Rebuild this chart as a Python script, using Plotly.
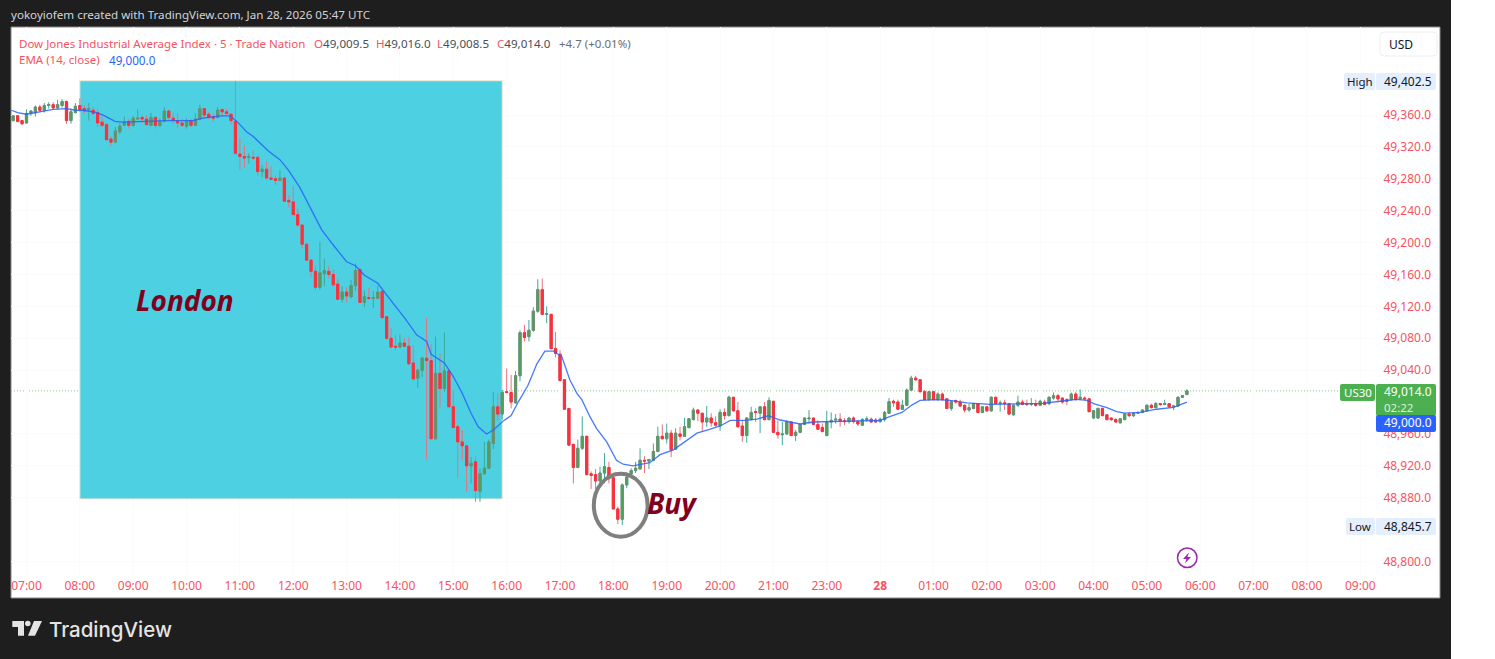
import plotly.graph_objects as go

W, H = 1495, 659

bars = list(range(-3, 262))
opens = [
 49353,49359,49353,49350,49362,49363,49370,49366,49372,49373,
 49369,49372,49377,49353,49363,49372,49368,49367,49366,49363,
 49351,49348,49330,49326,49339,49347,49352,49347,49355,49357,
 49355,49347,49357,49347,49352,49365,49356,49353,49350,49346,
 49353,49347,49355,49368,49361,49358,49357,49367,49364,49361,
 49352,49311,49308,49307,49307,49307,49289,49292,49281,49280,
 49278,49281,49253,49251,49235,49222,49198,49178,49164,49144,
 49161,49164,49160,49148,49129,49138,49132,49146,49166,49125,
 49131,49130,49130,49139,49107,49080,49070,49069,49074,49070,
 49049,49030,49040,49055,49052,48954,49036,49017,49039,48994,
 48969,48950,48945,48920,48925,48888,48910,48917,48948,48994,
 48985,49013,49012,48999,49033,49087,49082,49090,49114,49141,
 49110,49110,49067,49060,49028,48992,48947,48918,48942,48957,
 48910,48909,48901,48911,48918,48905,48866,48853,48896,48910,
 48914,48916,48927,48926,48927,48938,48957,48954,48961,48941,
 48960,48957,48968,48978,48990,48986,48975,48980,48974,48970,
 48987,48983,49006,48989,48970,48958,48978,48988,48986,48994,
 48978,49001,48962,48959,48960,48975,48958,48962,48972,48979,
 48980,48972,48968,48958,48975,48977.5,48978.5,48976.5,48975.5,48980,
 48975.5,48971,48978,48978.5,48977.5,48975.5,48978,48986,49001,49000,
 48991,48996,49015,49030,49028,49013,49003,49013,49003,49010,
 49004,48992,49002,49000,48996,48990,48992,48998,48987,48994,
 48989,49006,48998,48999,48998,48984,48996,49000,48998,48997,
 48998,48996,49000,48998,49005,49008,49005,49003,49003,49010,
 49004,49005,49004,48980,48980,48992,48984,48980,48978,48974,
 48978,48985,48983,48986,48987,48989,48996,48993,48998,48997,
 48998,48994,48995,49006,49009.5]
highs = [
 49360,49360,49354,49367,49366,49372,49373,49375,49376,49376,
 49379,49380,49378,49368,49375,49381,49372,49375,49370,49368,
 49358,49350,49333,49345,49350,49358,49355,49359,49367,49360,
 49360,49363,49358,49356,49370,49367,49363,49362,49355,49356,
 49355,49362,49373,49368,49364,49362,49370,49368,49368,49362,
 49402.5,49331,49322,49312,49316,49309,49297,49302,49296,49284,
 49291,49281,49259,49271,49243,49222,49198,49179,49170,49201,
 49180,49171,49166,49155,49145,49144,49153,49174,49169,49140,
 49143,49139,49146,49139,49108,49093,49084,49085,49080,49081,
 49071,49040.5,49057,49106,49073,49082,49061,49087,49040,49015,
 48971,48965,48946,48931,48932,48917,48950,48953,49013,49011,
 49015,49042,49034,49039,49090,49097,49103,49119,49154,49155,
 49120,49110.5,49088,49065,49028,48992,48947,48953,48982,48958,
 48913,48916,48919,48936,48925,48906,48869,48898,48907,48917,
 48925,48942,48932,48928,48948,48969,48972,48973,48965,48967,
 48969,48980,48980,48993,48991,48986,48995,48986,48982,48991,
 48992,49008,49006,49000,48977,48981,48994,48992,48995,49000,
 49006,49001,48977,48975,48977,48975,48965,48973,48980.5,48990,
 48980,48977,48973,48989,48987,48985,48986,48980,48981,48982,
 48977.5,48980,48982,48980.5,48980,48980.5,48989,49005,49003,49003,
 49003,49017,49033,49033,49028,49015,49014,49014,49012,49012,
 49005,49002,49003,49003,48997,48998,48999,48998.5,48995,48995,
 49007,49007,49002,49003,48999,48997,49008,49003,49003,49005,
 49003,49003,49003,49007,49012,49010,49005,49005,49012,49013,
 49016,49007,49004,48990,48993,48993,48985,48980.5,48980,48980,
 48986,48987,48987,48988,48991,48997,48998,49000,48998,49003,
 48998,48996,49007,49009,49016]
lows = [
 49352,49351,49348,49350,49359,49358,49365,49363,49368,49367,
 49367,49369,49349,49349,49362,49364,49362,49353,49360,49345,
 49345,49329,49321,49326,49336,49347,49343,49345,49355,49350,
 49347,49346,49343,49345,49351,49354,49349,49343,49345,49343,
 49345,49346,49355,49357,49355,49351,49356,49359,49359,49348,
 49310,49291,49294,49299,49304,49284,49282,49279,49279,49272,
 49278,49251,49244,49235,49220,49193,49177,49157,49140,49141,
 49145,49155,49145,49129,49125,49125,49130,49140,49125,49119,
 49128,49118,49130,49104,49078,49069,49065,49068,49069,49047,
 49028,49018,49031,48928,48953,48953,48992,49013,48994,48967,
 48905,48927,48887,48898,48875,48875,48909,48916,48941,48978,
 48978,49011,48992,48998,49026,49076,49076,49088,49112,49109,
 49099,49066,49056,49026,48991,48945,48898,48917,48940,48909,
 48891,48890,48894,48898,48898,48865,48847,48845.7,48892,48906,
 48911,48916,48911,48916,48926,48937,48953,48948,48931,48940,
 48952,48957,48967,48977,48976,48963,48969,48969,48969,48964,
 48978,48982,48988,48968,48950,48949,48977,48975,48961,48977,
 48977,48961,48954,48946,48959,48957,48951,48961,48971,48973,
 48971,48965,48962,48957,48967,48973,48969,48971,48973,48973,
 48970,48970,48975,48974,48974,48974,48975.5,48986,48994,48990,
 48990,48995,49014,49026,49012,49003,49002,49003,49002,49002,
 48991,48989,48998,48994,48987,48988,48991,48986,48986,48988,
 48988,48998,48988,48990,48984,48983,48994,48996,48995,48995,
 48994,48995,48996,48996,49003,49000,48998,48996,49002,49003,
 49003,49002,48987,48979,48979,48982,48977,48976,48974,48973,
 48977,48981,48981,48985,48986,48988,48992,48992,48995,48996,
 48993,48990,48994,49005,49008.5]
closes = [
 49359,49352,49349,49362,49365,49370,49366,49372,49373,49369,
 49373,49377,49353,49364,49371,49367,49365,49368,49362,49350,
 49347,49329,49326,49340,49346,49351,49347,49356,49356,49355,
 49348,49357,49347,49352,49365,49357,49353,49350,49347,49353,
 49347,49355,49368,49360,49357,49356,49366,49364,49362,49353,
 49312,49308,49306,49308,49306,49289,49292,49281,49279.5,49278,
 49281,49252,49251,49235,49222,49198,49178,49164,49144,49162,
 49165,49160,49147,49129,49138,49133,49146,49165,49125,49132,
 49130,49131,49138,49106,49080,49069,49069,49074,49070,49048,
 49029,49040,49055,49052,48954,49036,49017,49039,48994,48968,
 48950,48945,48920,48923,48889,48910,48917,48950,48994,48985,
 49012,49012,49000,49033,49087,49081,49090,49114,49141,49110,
 49111,49067,49061,49027,48991,48946,48918,48942,48957,48909,
 48908,48901,48911,48919,48904,48866,48853,48896,48906,48914,
 48917,48927,48926,48928,48938,48957,48954,48961,48940,48961,
 48957,48969,48979,48990,48986,48975,48980,48974,48971,48987,
 48983,49006,48989,48969,48958,48980,48987,48987,48994,48978,
 49002,48962,48959,48960,48975,48958,48962,48972,48980,48980,
 48972,48966,48963,48975,48977,48978.5,48976.5,48975.5,48980,48975.5,
 48972.5,48978,48979,48975,48975,48978.5,48987,49000.5,48999,48991,
 48996,49015,49030,49028,49013,49003,49013,49003,49010,49003,
 48992,49000.5,49000,48995,48990,48993,48998,48987,48994,48989,
 49006,48998,48999,48998,48985,48996,49000,48997,48997,48998,
 48996,49001,48997,49006,49008,49004,49000,49001,49010,49003,
 49006,49004,48988,48989,48992,48983,48978,48978,48975,48979,
 48985,48983,48986,48987,48990,48996,48993,48998,48997,48998,
 48994,48995,49006,49008,49014]
assert len(bars) == len(opens) == len(highs) == len(lows) == len(closes)

ema_bars = [-3.4,-2,0,2,4,6,9,11,13,15.8,17.6,19.9,21.7,27,31.5,37.5,39.7,43.5,45.8,47.3,49.5,51,52.5,54.4,57,58.9,61.5,66.4,69,72,74,76,79,80.7,83,85,87.8,90,91,94,96,98,100,101.6,103.5,105,107.4,109,110.6,112.8,114.8,116.6,118.5,120.4,122.2,123.8,124.9,126.7,128.2,130.5,132.7,134.2,136.4,140.2,142.5,145.5,148.5,150.8,153.8,156,158.3,161.6,164.3,166.9,169.5,172.1,174,176.9,180.7,186,192,194.3,196.9,199.2,201,204.7,207.7,211.5,216.7,222.7,228.7,232.5,236.2,238.5,240,243,245.2,247,250.5,254.2,258,261]
ema_vals = [49366,49363,49361,49363,49365,49367,49368,49366,49366,49363,49359,49352,49351,49352,49353,49353,49356,49359,49359,49352,49339,49333,49325,49315,49304,49291,49269,49216,49197,49176,49171,49159,49149,49136,49120,49106,49084,49076,49060,49049,49032,49011,48986,48969,48960,48965,48977,48983,49000,49021,49048,49064,49064,49057,49028,49011,49003,48982,48967,48950,48927,48922,48920,48924,48934,48940,48952,48961,48966,48970,48977,48977,48978.5,48983,48977.5,48975,48972.5,48975,48975.5,48977,48977,48982,48987,48996.5,49002,49003,49002,48999,48997,48997.6,48998.4,49001,49003.4,49002,48998,48993,48988,48986,48987,48991,48993.4,49000]

price_ticks = [48800,48880,48920,48960,49040,49080,49120,49160,49200,49240,49280,49320,49360]
price_labels = [f"{v:,.1f}" for v in price_ticks]
time_tick_bars = [0,12,24,36,48,60,72,84,96,108,120,132,144,156,168,180,192,204,216,228,240,252,264,276,288,300]
time_tick_labels = ["07:00","08:00","09:00","10:00","11:00","12:00","13:00","14:00","15:00","16:00","17:00","18:00","19:00","20:00","21:00","23:00","<b>28</b>","01:00","02:00","03:00","04:00","05:00","06:00","07:00","08:00","09:00"]

session_bars = [12, 107]
session_prices = [48878.5, 49403]
circle_bars = [127.6, 139.7]
circle_prices = [48831, 48910]
last_price = 49014.0

RED, TXT_RED, GREEN, BLUE, DARK = "#f7323f", "#f7525f", "#4caf50", "#2962ff", "#1e1e1e"
FONT = "Noto Sans"

def px(x): return x / W
def py(y): return 1 - y / H

def rect(x0, y0, x1, y1, fill, line=None, lw=0, layer="below"):
    return dict(type="rect", xref="paper", yref="paper", x0=px(x0), x1=px(x1), y0=py(y0), y1=py(y1),
                fillcolor=fill, line=dict(color=line or fill, width=lw), layer=layer)

def rrect(x0, y0, x1, y1, r, fill, line=None, lw=0):
    d = (f"M{px(x0+r)},{py(y0)} L{px(x1-r)},{py(y0)} Q{px(x1)},{py(y0)} {px(x1)},{py(y0+r)} "
         f"L{px(x1)},{py(y1-r)} Q{px(x1)},{py(y1)} {px(x1-r)},{py(y1)} L{px(x0+r)},{py(y1)} "
         f"Q{px(x0)},{py(y1)} {px(x0)},{py(y1-r)} L{px(x0)},{py(y0+r)} Q{px(x0)},{py(y0)} {px(x0+r)},{py(y0)} Z")
    return dict(type="path", xref="paper", yref="paper", path=d, fillcolor=fill,
                line=dict(color=line or fill, width=lw), layer="above")

def poly(pts, fill):
    d = "M" + " L".join(f"{px(a)},{py(b)}" for a, b in pts) + " Z"
    return dict(type="path", xref="paper", yref="paper", path=d, fillcolor=fill, line=dict(width=0), layer="above")

def text(x, y, s, size=12, color="#131722", anchor="left", family=FONT, weight=None):
    f = dict(size=size, color=color, family=family)
    if weight:
        f["weight"] = weight
    return dict(xref="paper", yref="paper", x=px(x), y=py(y), text=s, showarrow=False, xanchor=anchor,
                yanchor="middle", font=f, borderpad=0)

fig = go.Figure()
fig.add_trace(go.Candlestick(
    x=bars, open=opens, high=highs, low=lows, close=closes, whiskerwidth=0,
    increasing=dict(line=dict(color="#3fa99a", width=1), fillcolor="#3fa99a"),
    decreasing=dict(line=dict(color="#ee6f7c", width=1), fillcolor="#ee6f7c"),
    hoverinfo="skip", showlegend=False))
fig.add_trace(go.Candlestick(
    x=bars, open=opens, close=closes,
    high=[max(a, b) for a, b in zip(opens, closes)], low=[min(a, b) for a, b in zip(opens, closes)],
    whiskerwidth=0,
    increasing=dict(line=dict(color="#6f8f72", width=1), fillcolor="#4aa44e"),
    decreasing=dict(line=dict(color=RED, width=1), fillcolor=RED),
    hoverinfo="skip", showlegend=False))
fig.add_trace(go.Scatter(x=ema_bars, y=ema_vals, mode="lines", line=dict(color=BLUE, width=1.3),
                         opacity=0.85, hoverinfo="skip", showlegend=False))

shapes = [
    rect(0, 0, 1451, 659, DARK),
    rect(11, 27, 1440, 598, "#ffffff", "#8a8a8a", 1),
    dict(type="rect", xref="x", yref="y", x0=session_bars[0], x1=session_bars[1],
         y0=session_prices[0], y1=session_prices[1], fillcolor="#4dd0e1",
         line=dict(color="#f3e6cf", width=1), layer="between"),
    dict(type="line", xref="paper", yref="y", x0=px(11), x1=px(1340), y0=last_price, y1=last_price,
         line=dict(color="#7fc784", width=1, dash="1px,2px"), layer="between"),
    dict(type="circle", xref="x", yref="y", x0=circle_bars[0], x1=circle_bars[1],
         y0=circle_prices[0], y1=circle_prices[1], line=dict(color="#7f7f7f", width=4), layer="above"),
    rrect(1380, 32, 1437, 56, 4, "#ffffff", "#eceef2", 1),
    rrect(1344, 73, 1375, 90, 2, "#e3effd"),
    rrect(1376, 73, 1436, 90, 2, "#e3effd"),
    rrect(1346, 518, 1375, 535, 2, "#e3effd"),
    rrect(1376, 518, 1436, 535, 2, "#e3effd"),
    rrect(1340, 384, 1375, 401, 2, GREEN),
    rrect(1376, 384, 1436, 416, 2, GREEN),
    rrect(1376, 415, 1436, 432, 2, BLUE),
    # TradingView logo
    poly([(12.3,621),(24,621),(24,635.7),(18,635.7),(18,627),(12.3,627)], "#e3e3e3"),
    poly([(34,621),(42,621),(35,635.7),(28,635.7)], "#e3e3e3"),
    dict(type="circle", xref="paper", yref="paper", x0=px(25), x1=px(30.6), y0=py(626.3), y1=py(620.7),
         fillcolor="#e3e3e3", line=dict(width=0), layer="above"),
    # bolt badge
    dict(type="circle", xref="paper", yref="paper", x0=px(1177.5), x1=px(1197), y0=py(567.5), y1=py(548),
         fillcolor="#ffffff", line=dict(color="#9c27b0", width=1.5), layer="above"),
    poly([(1189,552.5),(1183,559),(1186.5,559),(1185,563.5),(1191,557),(1187.5,557)], "#9c27b0"),
]

annotations = [
    text(10, 15, "yokoyiofem created with TradingView.com, Jan 28, 2026 05:47 UTC", 11.6, "#d1d4dc"),
    text(17.5, 43, "Dow Jones Industrial Average Index · 5 · Trade Nation", 11.5, TXT_RED),
    text(313, 43, f'<span style="color:{TXT_RED}">O</span>49,009.5', 11.6, "#4a4e58"),
    text(375, 43, f'<span style="color:{TXT_RED}">H</span>49,016.0', 11.6, "#4a4e58"),
    text(436, 43, f'<span style="color:{TXT_RED}">L</span>49,008.5', 11.6, "#4a4e58"),
    text(496, 43, f'<span style="color:{TXT_RED}">C</span>49,014.0', 11.6, "#4a4e58"),
    text(558, 43, "+4.7 (+0.01%)", 11.5, "#6a6d78"),
    text(17.5, 59.5, "EMA (14, close)", 11.5, TXT_RED),
    text(107.5, 59.5, "49,000.0", 11.7, BLUE),
    text(1388, 44, "USD", 12, "#131722"),
    text(1359.5, 82, "High", 11.5, "#131722", "center"),
    text(1408, 81.5, "49,402.5", 12, "#131722", "center"),
    text(1360, 526.5, "Low", 11.5, "#131722", "center"),
    text(1408, 526, "48,845.7", 12, "#131722", "center"),
    text(1358, 392.5, "US30", 11.5, "#ffffff", "center"),
    text(1408, 391.5, "49,014.0", 12, "#ffffff", "center"),
    text(1398.5, 407, "02:22", 11.5, "#dff2df", "center"),
    text(1408, 423, "49,000.0", 12, "#ffffff", "center"),
    text(135, 300, "<b><i>London</i></b>", 28, "#800020"),
    text(646, 503, "<b><i>Buy</i></b>", 28, "#800020"),
    text(48, 629, "TradingView", 20.5, "#e3e3e3", family="Inter", weight=500),
]

x_lo = (11 - 26.5) / 4.446
x_hi = (1373 - 26.5) / 4.446
fig.update_layout(
    width=W, height=H, margin=dict(l=0, r=0, t=0, b=0, pad=0, autoexpand=False),
    paper_bgcolor="#ffffff", plot_bgcolor="rgba(0,0,0,0)", showlegend=False,
    shapes=shapes, annotations=annotations, font=dict(family=FONT),
    xaxis=dict(domain=[px(11), px(1373)], range=[x_lo, x_hi], rangeslider=dict(visible=False),
               tickmode="array", tickvals=time_tick_bars, ticktext=time_tick_labels,
               showgrid=True, gridcolor="#fbfbfd", gridwidth=1, zeroline=False, showline=False,
               ticks="outside", ticklen=2, tickcolor="rgba(0,0,0,0)", automargin=False,
               tickangle=0, tickfont=dict(size=12, color=TXT_RED, family=FONT)),
    yaxis=dict(domain=[py(573), py(27)], side="right", range=[48785.6, 49470.4],
               tickmode="array", tickvals=price_ticks, ticktext=price_labels,
               showgrid=True, gridcolor="#fbfbfd", gridwidth=1, zeroline=False, showline=False,
               ticks="outside", ticklen=7, tickcolor="rgba(0,0,0,0)", automargin=False,
               tickfont=dict(size=12, color=TXT_RED, family=FONT)),
)

fig.write_html("out.html", config={"displayModeBar": False},
               post_script="document.body.style.margin='0';document.body.style.overflow='hidden';")
